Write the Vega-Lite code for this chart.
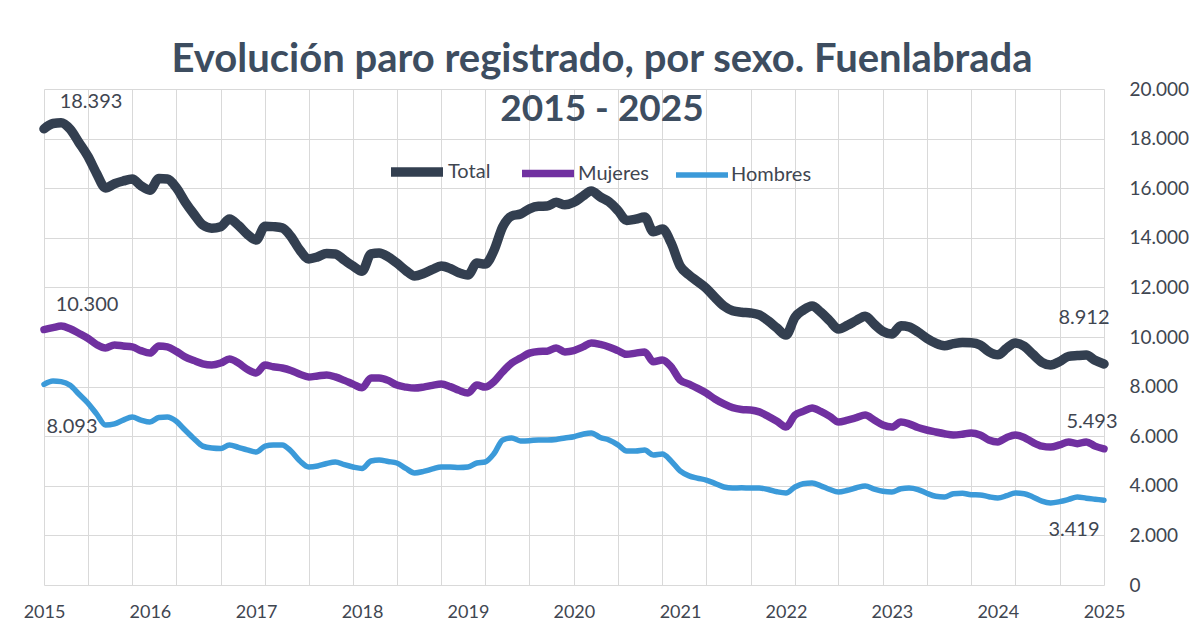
{
  "$schema": "https://vega.github.io/schema/vega-lite/v6.json",
  "width": 1060,
  "height": 496,
  "autosize": "none",
  "padding": {"left": 44, "top": 89, "right": 96, "bottom": 41},
  "background": "white",
  "config": {
    "locale": {"number": {"decimal": ",", "thousands": ".", "grouping": [3], "currency": ["", " €"]}},
    "view": {"stroke": null},
    "font": "Lato"
  },
  "title": {
    "text": "Evolución paro registrado, por sexo. Fuenlabrada",
    "subtitle": "2015 - 2025",
    "font": "Lato",
    "fontSize": 40,
    "fontWeight": "bold",
    "color": "#3d4d60",
    "subtitleFont": "Lato",
    "subtitleFontSize": 37,
    "subtitleFontWeight": "bold",
    "subtitleColor": "#3d4d60",
    "subtitlePadding": 12,
    "anchor": "middle",
    "frame": "group",
    "dx": 28,
    "offset": -48
  },
  "data": {
    "format": {"parse": {"fecha": "utc:'%Y-%m'"}},
    "values": [
      {"fecha": "2015-01", "Total": 18393, "Mujeres": 10300, "Hombres": 8093},
      {"fecha": "2015-02", "Total": 18610, "Mujeres": 10380, "Hombres": 8230},
      {"fecha": "2015-03", "Total": 18640, "Mujeres": 10440, "Hombres": 8200},
      {"fecha": "2015-04", "Total": 18380, "Mujeres": 10330, "Hombres": 8050},
      {"fecha": "2015-05", "Total": 17850, "Mujeres": 10150, "Hombres": 7700},
      {"fecha": "2015-06", "Total": 17290, "Mujeres": 9950, "Hombres": 7340},
      {"fecha": "2015-07", "Total": 16600, "Mujeres": 9700, "Hombres": 6900},
      {"fecha": "2015-08", "Total": 16010, "Mujeres": 9560, "Hombres": 6450},
      {"fecha": "2015-09", "Total": 16180, "Mujeres": 9680, "Hombres": 6500},
      {"fecha": "2015-10", "Total": 16290, "Mujeres": 9640, "Hombres": 6650},
      {"fecha": "2015-11", "Total": 16370, "Mujeres": 9600, "Hombres": 6770},
      {"fecha": "2015-12", "Total": 16100, "Mujeres": 9450, "Hombres": 6650},
      {"fecha": "2016-01", "Total": 15920, "Mujeres": 9350, "Hombres": 6570},
      {"fecha": "2016-02", "Total": 16390, "Mujeres": 9640, "Hombres": 6750},
      {"fecha": "2016-03", "Total": 16370, "Mujeres": 9600, "Hombres": 6770},
      {"fecha": "2016-04", "Total": 16020, "Mujeres": 9420, "Hombres": 6600},
      {"fecha": "2016-05", "Total": 15450, "Mujeres": 9200, "Hombres": 6250},
      {"fecha": "2016-06", "Total": 14950, "Mujeres": 9050, "Hombres": 5900},
      {"fecha": "2016-07", "Total": 14520, "Mujeres": 8920, "Hombres": 5600},
      {"fecha": "2016-08", "Total": 14390, "Mujeres": 8870, "Hombres": 5520},
      {"fecha": "2016-09", "Total": 14450, "Mujeres": 8950, "Hombres": 5500},
      {"fecha": "2016-10", "Total": 14760, "Mujeres": 9110, "Hombres": 5650},
      {"fecha": "2016-11", "Total": 14500, "Mujeres": 8950, "Hombres": 5550},
      {"fecha": "2016-12", "Total": 14150, "Mujeres": 8700, "Hombres": 5450},
      {"fecha": "2017-01", "Total": 13910, "Mujeres": 8550, "Hombres": 5360},
      {"fecha": "2017-02", "Total": 14470, "Mujeres": 8870, "Hombres": 5600},
      {"fecha": "2017-03", "Total": 14450, "Mujeres": 8800, "Hombres": 5650},
      {"fecha": "2017-04", "Total": 14400, "Mujeres": 8750, "Hombres": 5650},
      {"fecha": "2017-05", "Total": 14050, "Mujeres": 8650, "Hombres": 5400},
      {"fecha": "2017-06", "Total": 13500, "Mujeres": 8500, "Hombres": 5000},
      {"fecha": "2017-07", "Total": 13150, "Mujeres": 8390, "Hombres": 4760},
      {"fecha": "2017-08", "Total": 13230, "Mujeres": 8430, "Hombres": 4800},
      {"fecha": "2017-09", "Total": 13370, "Mujeres": 8470, "Hombres": 4900},
      {"fecha": "2017-10", "Total": 13350, "Mujeres": 8390, "Hombres": 4960},
      {"fecha": "2017-11", "Total": 13100, "Mujeres": 8250, "Hombres": 4850},
      {"fecha": "2017-12", "Total": 12860, "Mujeres": 8100, "Hombres": 4760},
      {"fecha": "2018-01", "Total": 12650, "Mujeres": 7950, "Hombres": 4700},
      {"fecha": "2018-02", "Total": 13350, "Mujeres": 8350, "Hombres": 5000},
      {"fecha": "2018-03", "Total": 13390, "Mujeres": 8350, "Hombres": 5040},
      {"fecha": "2018-04", "Total": 13230, "Mujeres": 8250, "Hombres": 4980},
      {"fecha": "2018-05", "Total": 12980, "Mujeres": 8060, "Hombres": 4920},
      {"fecha": "2018-06", "Total": 12680, "Mujeres": 7980, "Hombres": 4700},
      {"fecha": "2018-07", "Total": 12460, "Mujeres": 7940, "Hombres": 4520},
      {"fecha": "2018-08", "Total": 12560, "Mujeres": 7980, "Hombres": 4580},
      {"fecha": "2018-09", "Total": 12730, "Mujeres": 8050, "Hombres": 4680},
      {"fecha": "2018-10", "Total": 12860, "Mujeres": 8100, "Hombres": 4760},
      {"fecha": "2018-11", "Total": 12760, "Mujeres": 8000, "Hombres": 4760},
      {"fecha": "2018-12", "Total": 12590, "Mujeres": 7850, "Hombres": 4740},
      {"fecha": "2019-01", "Total": 12500, "Mujeres": 7740, "Hombres": 4760},
      {"fecha": "2019-02", "Total": 12980, "Mujeres": 8060, "Hombres": 4920},
      {"fecha": "2019-03", "Total": 12940, "Mujeres": 7980, "Hombres": 4960},
      {"fecha": "2019-04", "Total": 13500, "Mujeres": 8200, "Hombres": 5300},
      {"fecha": "2019-05", "Total": 14450, "Mujeres": 8600, "Hombres": 5850},
      {"fecha": "2019-06", "Total": 14880, "Mujeres": 8950, "Hombres": 5930},
      {"fecha": "2019-07", "Total": 14960, "Mujeres": 9150, "Hombres": 5810},
      {"fecha": "2019-08", "Total": 15170, "Mujeres": 9350, "Hombres": 5820},
      {"fecha": "2019-09", "Total": 15270, "Mujeres": 9420, "Hombres": 5850},
      {"fecha": "2019-10", "Total": 15280, "Mujeres": 9430, "Hombres": 5850},
      {"fecha": "2019-11", "Total": 15430, "Mujeres": 9560, "Hombres": 5870},
      {"fecha": "2019-12", "Total": 15330, "Mujeres": 9400, "Hombres": 5930},
      {"fecha": "2020-01", "Total": 15430, "Mujeres": 9450, "Hombres": 5980},
      {"fecha": "2020-02", "Total": 15680, "Mujeres": 9600, "Hombres": 6080},
      {"fecha": "2020-03", "Total": 15890, "Mujeres": 9760, "Hombres": 6130},
      {"fecha": "2020-04", "Total": 15650, "Mujeres": 9700, "Hombres": 5950},
      {"fecha": "2020-05", "Total": 15450, "Mujeres": 9600, "Hombres": 5850},
      {"fecha": "2020-06", "Total": 15100, "Mujeres": 9450, "Hombres": 5650},
      {"fecha": "2020-07", "Total": 14700, "Mujeres": 9300, "Hombres": 5400},
      {"fecha": "2020-08", "Total": 14750, "Mujeres": 9350, "Hombres": 5400},
      {"fecha": "2020-09", "Total": 14840, "Mujeres": 9400, "Hombres": 5440},
      {"fecha": "2020-10", "Total": 14240, "Mujeres": 9000, "Hombres": 5240},
      {"fecha": "2020-11", "Total": 14350, "Mujeres": 9070, "Hombres": 5280},
      {"fecha": "2020-12", "Total": 13800, "Mujeres": 8800, "Hombres": 5000},
      {"fecha": "2021-01", "Total": 12870, "Mujeres": 8270, "Hombres": 4600},
      {"fecha": "2021-02", "Total": 12500, "Mujeres": 8100, "Hombres": 4400},
      {"fecha": "2021-03", "Total": 12250, "Mujeres": 7940, "Hombres": 4310},
      {"fecha": "2021-04", "Total": 11970, "Mujeres": 7740, "Hombres": 4230},
      {"fecha": "2021-05", "Total": 11600, "Mujeres": 7500, "Hombres": 4100},
      {"fecha": "2021-06", "Total": 11250, "Mujeres": 7300, "Hombres": 3950},
      {"fecha": "2021-07", "Total": 11060, "Mujeres": 7150, "Hombres": 3910},
      {"fecha": "2021-08", "Total": 11000, "Mujeres": 7080, "Hombres": 3920},
      {"fecha": "2021-09", "Total": 10970, "Mujeres": 7060, "Hombres": 3910},
      {"fecha": "2021-10", "Total": 10890, "Mujeres": 6980, "Hombres": 3910},
      {"fecha": "2021-11", "Total": 10650, "Mujeres": 6800, "Hombres": 3850},
      {"fecha": "2021-12", "Total": 10360, "Mujeres": 6600, "Hombres": 3760},
      {"fecha": "2022-01", "Total": 10080, "Mujeres": 6370, "Hombres": 3710},
      {"fecha": "2022-02", "Total": 10800, "Mujeres": 6850, "Hombres": 3950},
      {"fecha": "2022-03", "Total": 11080, "Mujeres": 7000, "Hombres": 4080},
      {"fecha": "2022-04", "Total": 11250, "Mujeres": 7140, "Hombres": 4110},
      {"fecha": "2022-05", "Total": 11000, "Mujeres": 7000, "Hombres": 4000},
      {"fecha": "2022-06", "Total": 10650, "Mujeres": 6800, "Hombres": 3850},
      {"fecha": "2022-07", "Total": 10320, "Mujeres": 6570, "Hombres": 3750},
      {"fecha": "2022-08", "Total": 10470, "Mujeres": 6650, "Hombres": 3820},
      {"fecha": "2022-09", "Total": 10670, "Mujeres": 6750, "Hombres": 3920},
      {"fecha": "2022-10", "Total": 10840, "Mujeres": 6850, "Hombres": 3990},
      {"fecha": "2022-11", "Total": 10520, "Mujeres": 6650, "Hombres": 3870},
      {"fecha": "2022-12", "Total": 10230, "Mujeres": 6450, "Hombres": 3780},
      {"fecha": "2023-01", "Total": 10120, "Mujeres": 6370, "Hombres": 3750},
      {"fecha": "2023-02", "Total": 10450, "Mujeres": 6570, "Hombres": 3880},
      {"fecha": "2023-03", "Total": 10410, "Mujeres": 6500, "Hombres": 3910},
      {"fecha": "2023-04", "Total": 10200, "Mujeres": 6350, "Hombres": 3850},
      {"fecha": "2023-05", "Total": 9950, "Mujeres": 6250, "Hombres": 3700},
      {"fecha": "2023-06", "Total": 9750, "Mujeres": 6170, "Hombres": 3580},
      {"fecha": "2023-07", "Total": 9650, "Mujeres": 6100, "Hombres": 3550},
      {"fecha": "2023-08", "Total": 9730, "Mujeres": 6050, "Hombres": 3680},
      {"fecha": "2023-09", "Total": 9780, "Mujeres": 6080, "Hombres": 3700},
      {"fecha": "2023-10", "Total": 9770, "Mujeres": 6130, "Hombres": 3640},
      {"fecha": "2023-11", "Total": 9680, "Mujeres": 6050, "Hombres": 3630},
      {"fecha": "2023-12", "Total": 9410, "Mujeres": 5850, "Hombres": 3560},
      {"fecha": "2024-01", "Total": 9280, "Mujeres": 5770, "Hombres": 3510},
      {"fecha": "2024-02", "Total": 9550, "Mujeres": 5950, "Hombres": 3600},
      {"fecha": "2024-03", "Total": 9760, "Mujeres": 6050, "Hombres": 3710},
      {"fecha": "2024-04", "Total": 9630, "Mujeres": 5950, "Hombres": 3680},
      {"fecha": "2024-05", "Total": 9300, "Mujeres": 5750, "Hombres": 3550},
      {"fecha": "2024-06", "Total": 8980, "Mujeres": 5600, "Hombres": 3380},
      {"fecha": "2024-07", "Total": 8870, "Mujeres": 5560, "Hombres": 3310},
      {"fecha": "2024-08", "Total": 9010, "Mujeres": 5650, "Hombres": 3360},
      {"fecha": "2024-09", "Total": 9220, "Mujeres": 5770, "Hombres": 3450},
      {"fecha": "2024-10", "Total": 9250, "Mujeres": 5700, "Hombres": 3550},
      {"fecha": "2024-11", "Total": 9270, "Mujeres": 5770, "Hombres": 3500},
      {"fecha": "2024-12", "Total": 9060, "Mujeres": 5600, "Hombres": 3460},
      {"fecha": "2025-01", "Total": 8912, "Mujeres": 5493, "Hombres": 3419}
    ]
  },
  "transform": [
    {"fold": ["Total", "Mujeres", "Hombres"], "as": ["serie", "valor"]}
  ],
  "encoding": {
    "x": {
      "field": "fecha",
      "type": "temporal",
      "scale": {"type": "utc", "domain": [{"year": 2015, "month": 1, "date": 1, "utc": true}, {"year": 2025, "month": 1, "date": 1, "utc": true}]},
      "axis": {
        "title": null,
        "values": [
          {"year": 2015, "month": 1, "date": 1, "utc": true},
          {"year": 2015, "month": 6, "date": 1, "utc": true},
          {"year": 2015, "month": 11, "date": 1, "utc": true},
          {"year": 2016, "month": 1, "date": 1, "utc": true},
          {"year": 2016, "month": 4, "date": 1, "utc": true},
          {"year": 2016, "month": 9, "date": 1, "utc": true},
          {"year": 2017, "month": 1, "date": 1, "utc": true},
          {"year": 2017, "month": 2, "date": 1, "utc": true},
          {"year": 2017, "month": 7, "date": 1, "utc": true},
          {"year": 2017, "month": 12, "date": 1, "utc": true},
          {"year": 2018, "month": 1, "date": 1, "utc": true},
          {"year": 2018, "month": 5, "date": 1, "utc": true},
          {"year": 2018, "month": 10, "date": 1, "utc": true},
          {"year": 2019, "month": 1, "date": 1, "utc": true},
          {"year": 2019, "month": 3, "date": 1, "utc": true},
          {"year": 2019, "month": 8, "date": 1, "utc": true},
          {"year": 2020, "month": 1, "date": 1, "utc": true},
          {"year": 2020, "month": 6, "date": 1, "utc": true},
          {"year": 2020, "month": 11, "date": 1, "utc": true},
          {"year": 2021, "month": 1, "date": 1, "utc": true},
          {"year": 2021, "month": 4, "date": 1, "utc": true},
          {"year": 2021, "month": 9, "date": 1, "utc": true},
          {"year": 2022, "month": 1, "date": 1, "utc": true},
          {"year": 2022, "month": 2, "date": 1, "utc": true},
          {"year": 2022, "month": 7, "date": 1, "utc": true},
          {"year": 2022, "month": 12, "date": 1, "utc": true},
          {"year": 2023, "month": 1, "date": 1, "utc": true},
          {"year": 2023, "month": 5, "date": 1, "utc": true},
          {"year": 2023, "month": 10, "date": 1, "utc": true},
          {"year": 2024, "month": 1, "date": 1, "utc": true},
          {"year": 2024, "month": 3, "date": 1, "utc": true},
          {"year": 2024, "month": 8, "date": 1, "utc": true},
          {"year": 2025, "month": 1, "date": 1, "utc": true}
        ],
        "labelExpr": "utcmonth(datum.value) == 0 ? utcFormat(datum.value, '%Y') : ''",
        "labelOverlap": false,
        "labelBound": false,
        "labelFlush": false,
        "labelFont": "Lato",
        "labelFontSize": 18,
        "labelColor": "#3f4651",
        "labelPadding": 18,
        "ticks": false,
        "domain": false,
        "grid": true,
        "gridColor": "#d9d9d9",
        "gridWidth": 1,
        "gridOpacity": {"condition": {"test": "((utcyear(datum.value) - 2015) * 12 + utcmonth(datum.value)) % 5 == 0", "value": 1}, "value": 0}
      }
    },
    "y": {
      "field": "valor",
      "type": "quantitative",
      "scale": {"domain": [0, 20000], "nice": false},
      "axis": {
        "title": null,
        "orient": "right",
        "values": [0, 2000, 4000, 6000, 8000, 10000, 12000, 14000, 16000, 18000, 20000],
        "format": ",.0f",
        "labelAlign": "left",
        "labelPadding": 25,
        "labelFont": "Lato",
        "labelFontSize": 19,
        "labelColor": "#3f4651",
        "ticks": false,
        "domain": false,
        "grid": true,
        "gridColor": "#d9d9d9",
        "gridWidth": 1
      }
    }
  },
  "layer": [
    {
      "mark": {"type": "line", "interpolate": "monotone", "strokeCap": "round", "strokeJoin": "round"},
      "encoding": {
        "color": {
          "field": "serie",
          "type": "nominal",
          "scale": {"domain": ["Total", "Mujeres", "Hombres"], "range": ["#333f50", "#7030a0", "#3b9ad9"]},
          "legend": {
            "title": null,
            "orient": "none",
            "legendX": 342,
            "legendY": 52,
            "direction": "horizontal",
            "symbolType": "stroke",
            "symbolSize": 2704,
            "labelFont": "Lato",
            "labelFontSize": 20,
            "labelColor": "#3f4651",
            "labelOffset": 0,
            "columnPadding": 16,
            "padding": 0
          }
        },
        "strokeWidth": {
          "field": "serie",
          "type": "nominal",
          "scale": {"domain": ["Total", "Mujeres", "Hombres"], "range": [9.5, 5.5, 5.5]},
          "legend": {
            "title": null,
            "orient": "none",
            "legendX": 342,
            "legendY": 52,
            "direction": "horizontal",
            "symbolType": "stroke",
            "symbolSize": 2704,
            "labelFont": "Lato",
            "labelFontSize": 20,
            "labelColor": "#3f4651",
            "labelOffset": 0,
            "columnPadding": 16,
            "padding": 0
          }
        }
      }
    },
    {
      "transform": [{"filter": "datum.serie == 'Total' && utcyear(datum.fecha) == 2015 && utcmonth(datum.fecha) == 0"}],
      "mark": {"type": "text", "dx": 47, "dy": -27, "font": "Lato", "fontSize": 20, "color": "#3f4651"},
      "encoding": {"text": {"field": "valor", "type": "quantitative", "format": ","}}
    },
    {
      "transform": [{"filter": "datum.serie == 'Mujeres' && utcyear(datum.fecha) == 2015 && utcmonth(datum.fecha) == 0"}],
      "mark": {"type": "text", "dx": 43, "dy": -25, "font": "Lato", "fontSize": 20, "color": "#3f4651"},
      "encoding": {"text": {"field": "valor", "type": "quantitative", "format": ","}}
    },
    {
      "transform": [{"filter": "datum.serie == 'Hombres' && utcyear(datum.fecha) == 2015 && utcmonth(datum.fecha) == 0"}],
      "mark": {"type": "text", "dx": 28, "dy": 43, "font": "Lato", "fontSize": 20, "color": "#3f4651"},
      "encoding": {"text": {"field": "valor", "type": "quantitative", "format": ","}}
    },
    {
      "transform": [{"filter": "datum.serie == 'Total' && utcyear(datum.fecha) == 2025"}],
      "mark": {"type": "text", "dx": -20, "dy": -46, "font": "Lato", "fontSize": 20, "color": "#3f4651"},
      "encoding": {"text": {"field": "valor", "type": "quantitative", "format": ","}}
    },
    {
      "transform": [{"filter": "datum.serie == 'Mujeres' && utcyear(datum.fecha) == 2025"}],
      "mark": {"type": "text", "dx": -12, "dy": -27, "font": "Lato", "fontSize": 20, "color": "#3f4651"},
      "encoding": {"text": {"field": "valor", "type": "quantitative", "format": ","}}
    },
    {
      "transform": [{"filter": "datum.serie == 'Hombres' && utcyear(datum.fecha) == 2025"}],
      "mark": {"type": "text", "dx": -30, "dy": 30, "font": "Lato", "fontSize": 20, "color": "#3f4651"},
      "encoding": {"text": {"field": "valor", "type": "quantitative", "format": ","}}
    }
  ]
}
